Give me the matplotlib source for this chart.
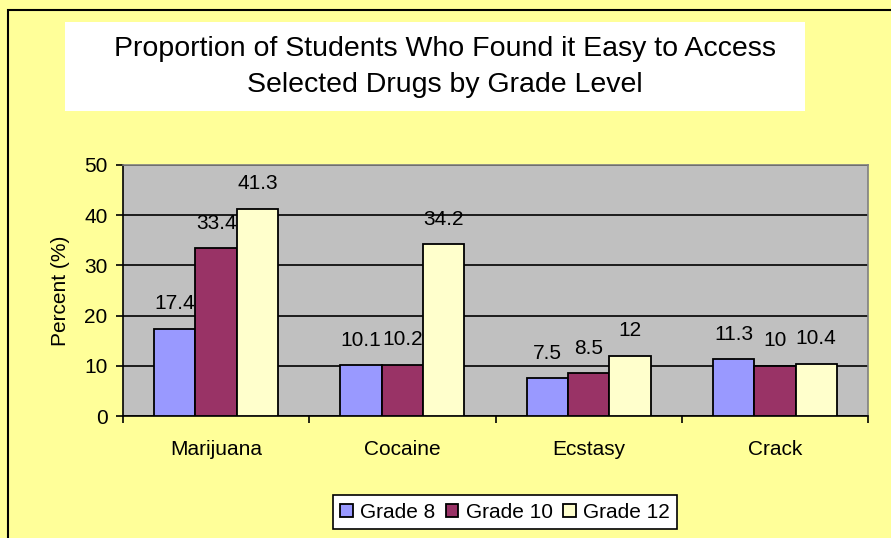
import matplotlib
matplotlib.use("Agg")
import matplotlib.pyplot as plt
import numpy as np
from matplotlib.patches import Rectangle

plt.rcParams['font.family'] = ['Liberation Sans', 'DejaVu Sans']

drugs = ["Marijuana", "Cocaine", "Ecstasy", "Crack"]
grades = ["Grade 8", "Grade 10", "Grade 12"]
grade8 = [17.4, 10.1, 7.5, 11.3]
grade10 = [33.4, 10.2, 8.5, 10]
grade12 = [41.3, 34.2, 12, 10.4]
colors = ["#9999FF", "#993366", "#FFFFCC"]

W, H = 891, 538
fig = plt.figure(figsize=(W / 100, H / 100), dpi=100)
fig.patch.set_facecolor("#FFFF99")

# outer chart border
fig.add_artist(Rectangle((8 / W, -0.1), 1.2, (H - 10) / H + 0.1, transform=fig.transFigure,
                         facecolor="none", edgecolor="black", linewidth=1.5))

# title box
fig.add_artist(Rectangle((65 / W, 1 - 111 / H), 740 / W, 89 / H, transform=fig.transFigure,
                         facecolor="white", edgecolor="none"))
fig.text(445 / W, 1 - 67 / H, "Proportion of Students Who Found it Easy to Access\nSelected Drugs by Grade Level",
         ha="center", va="center", fontsize=20.5, linespacing=1.5)

ax = fig.add_axes([123 / W, 1 - 416 / H, (868 - 123) / W, (416 - 165) / H])
ax.set_facecolor("#C0C0C0")

x = np.arange(len(drugs))
bw = 0.222
series = [grade8, grade10, grade12]
for i, vals in enumerate(series):
    pos = x + (i - 1) * bw
    ax.bar(pos, vals, bw, color=colors[i], edgecolor="black", linewidth=1.3,
           label=grades[i], zorder=3)
    for p, v in zip(pos, vals):
        ax.annotate(f"{v:g}", (p, v), xytext=(0, 18), textcoords="offset points",
                    ha="center", va="center", fontsize=15)

ax.set_xlim(-0.5, 3.5)
ax.set_ylim(0, 50)
ax.set_yticks(range(0, 51, 10))
ax.yaxis.grid(True, color="black", linewidth=1.2, zorder=0)
ax.set_axisbelow(True)
ax.set_xticks(np.arange(-0.5, 4, 1), minor=False)
ax.set_xticklabels([])
ax.set_xticks(x, minor=True)
ax.set_xticklabels(drugs, minor=True, fontsize=15)
ax.tick_params(axis="x", which="minor", length=0, pad=17)
ax.tick_params(axis="x", which="major", length=5, width=1.2, direction="out")
ax.tick_params(axis="y", length=5, width=1.2, direction="out", labelsize=15, pad=6)
ax.set_ylabel("Percent (%)", fontsize=15, labelpad=10)

for s in ["top", "right"]:
    ax.spines[s].set_color("#808080")
    ax.spines[s].set_linewidth(1.2)
for s in ["left", "bottom"]:
    ax.spines[s].set_color("black")
    ax.spines[s].set_linewidth(1.2)

leg = ax.legend(loc="center", bbox_to_anchor=(505 / W, 1 - 512 / H), bbox_transform=fig.transFigure,
                ncol=3, fontsize=15, frameon=True, fancybox=False, handlelength=0.6, handleheight=0.6,
                handletextpad=0.35, columnspacing=0.5, borderpad=0.35)
leg.get_frame().set_edgecolor("black")
leg.get_frame().set_linewidth(1.2)
leg.get_frame().set_facecolor("white")
leg.get_frame().set_alpha(1)

fig.savefig("out.png", dpi=100, facecolor=fig.get_facecolor())
